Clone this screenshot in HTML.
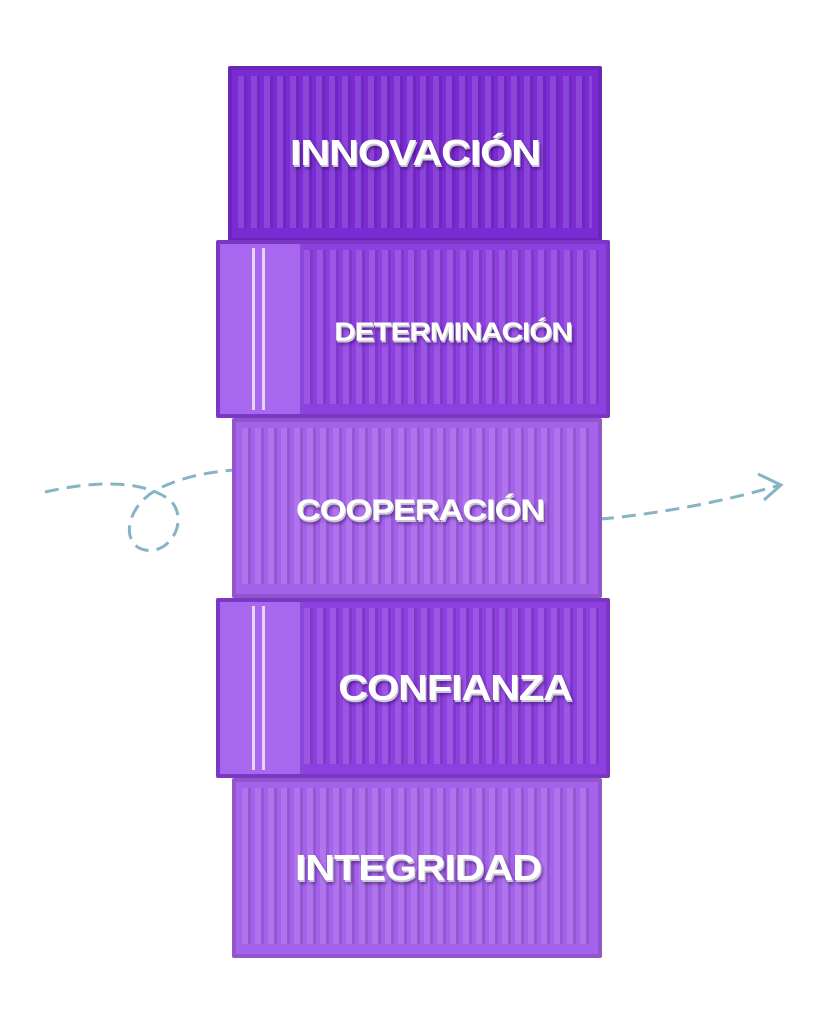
<!DOCTYPE html>
<html><head><meta charset="utf-8"><style>
body{margin:0;width:828px;height:1024px;background:#fff;position:relative;overflow:hidden;font-family:"Liberation Sans",sans-serif}
.c{position:absolute;box-sizing:border-box;border:4px solid rgba(0,0,0,0.12);border-radius:2px}
.rib{position:absolute;top:6px;bottom:10px;left:6px;right:6px;background:repeating-linear-gradient(90deg,rgba(255,255,255,0.12) 0 6px,rgba(0,0,0,0.1) 6px 9px,rgba(255,255,255,0) 9px 13px)}
.door{position:absolute;background:#a767ee;border-right:4px solid #8a45da}
.bar{position:absolute;top:4px;bottom:4px;width:3px;background:#e6d6fa}
.t{position:absolute;color:#fff;font-weight:bold;letter-spacing:-1px;transform:translate(-50%,-50%) scaleX(1.15);white-space:nowrap;text-shadow:1px 2px 0 #c9c9d2,2px 4px 3px rgba(40,0,80,0.5)}
</style></head><body>
<svg width="828" height="1024" style="position:absolute;left:0;top:0">
<path d="M45 492 C90 482 140 478 170 500 C190 520 170 555 145 550 C120 545 125 505 160 488 C185 476 210 472 234 470" fill="none" stroke="#86b4c6" stroke-width="3" stroke-dasharray="14 8"/>
<path d="M600 519 C660 514 730 500 780 485" fill="none" stroke="#86b4c6" stroke-width="3" stroke-dasharray="14 8"/>
<path d="M758 474 L781 485 L764 500" fill="none" stroke="#86b4c6" stroke-width="3"/>
</svg>
<div class="c" style="left:228px;top:66px;width:374px;height:176px;background:#7b2bd3"><div class="rib"></div></div>
<div class="c" style="left:232px;top:778px;width:370px;height:180px;background:#a562ea"><div class="rib"></div></div>
<div class="c" style="left:216px;top:598px;width:394px;height:180px;background:#8d3fe0"><div class="rib"></div><div class="door" style="left:0;top:0;width:80px;height:172px"><div class="bar" style="left:32px"></div><div class="bar" style="left:42px"></div></div></div>
<div class="c" style="left:232px;top:418px;width:370px;height:180px;background:#a562ea"><div class="rib"></div></div>
<div class="c" style="left:216px;top:240px;width:394px;height:178px;background:#8d3fe0"><div class="rib"></div><div class="door" style="left:0;top:0;width:80px;height:170px"><div class="bar" style="left:32px"></div><div class="bar" style="left:42px"></div></div></div>
<div class="t" style="left:415px;top:153px;font-size:36px">INNOVACIÓN</div>
<div class="t" style="left:453px;top:332px;font-size:26px">DETERMINACIÓN</div>
<div class="t" style="left:420px;top:511px;font-size:30px">COOPERACIÓN</div>
<div class="t" style="left:455px;top:688px;font-size:36px">CONFIANZA</div>
<div class="t" style="left:418px;top:868px;font-size:36px">INTEGRIDAD</div>
</body></html>
